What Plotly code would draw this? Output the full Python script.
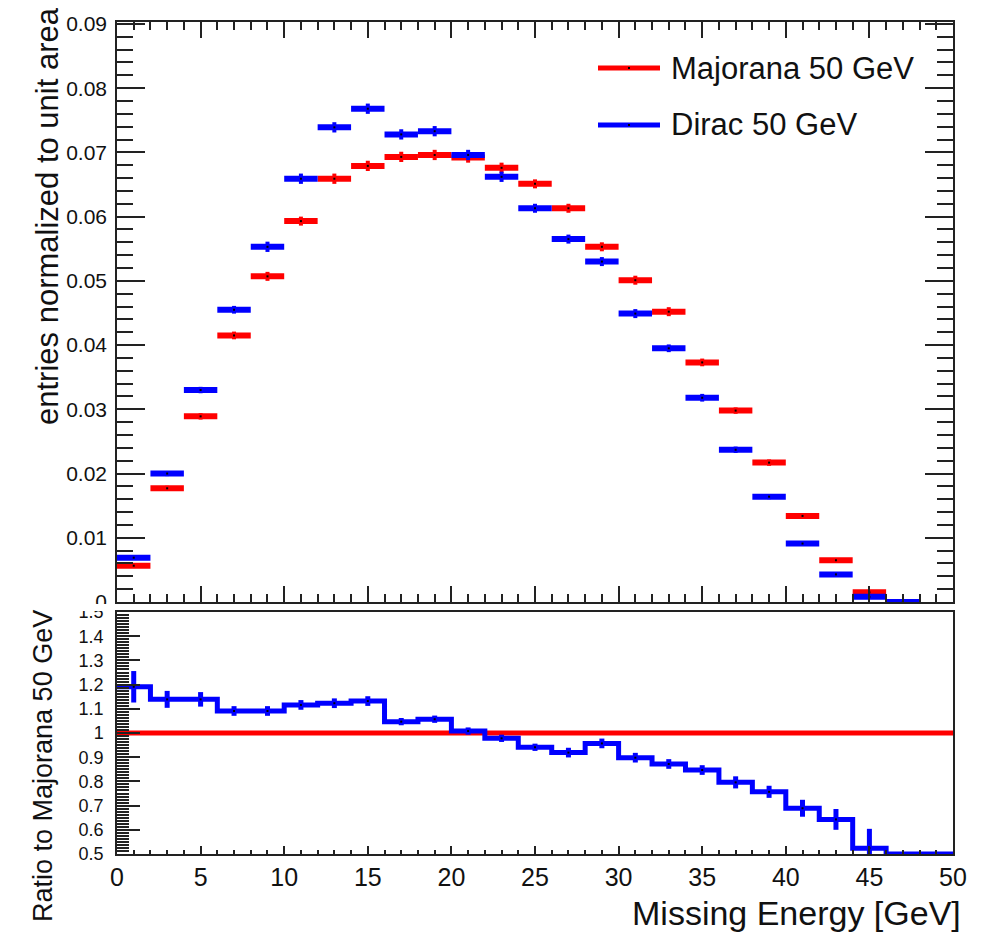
import plotly.graph_objects as go

# ---------------- data ----------------
bin_centers = [1, 3, 5, 7, 9, 11, 13, 15, 17, 19, 21, 23, 25, 27, 29,
               31, 33, 35, 37, 39, 41, 43, 45, 47, 49]
bin_half_width = [1] * 25

majorana = [0.00565, 0.0177, 0.0289, 0.0415, 0.0507, 0.0593, 0.0659, 0.0679,
            0.0693, 0.0696, 0.0692, 0.0676, 0.0651, 0.0613, 0.0553, 0.0501,
            0.0452, 0.0373, 0.0298, 0.0217, 0.0134, 0.0065, 0.0015, 0.0, None]
majorana_err = [0.0003, 0.0004, 0.0005, 0.0006, 0.0007, 0.0007, 0.0008, 0.0008,
                0.0008, 0.0008, 0.0008, 0.0008, 0.0007, 0.0007, 0.0007, 0.0007,
                0.0007, 0.0006, 0.0005, 0.0005, 0.0004, 0.0003, 0.0002, 0.0, None]

dirac = [0.0069, 0.0200, 0.0330, 0.0455, 0.0553, 0.0659, 0.0739, 0.0768,
         0.0728, 0.0733, 0.0696, 0.0662, 0.0613, 0.0565, 0.0530, 0.0449,
         0.0395, 0.0318, 0.0237, 0.0164, 0.0091, 0.0043, 0.0008, 0.0, None]
dirac_err = [0.0003, 0.0004, 0.0005, 0.0006, 0.0008, 0.0008, 0.0008, 0.0008,
             0.0008, 0.0008, 0.0008, 0.0008, 0.0007, 0.0007, 0.0007, 0.0007,
             0.0006, 0.0006, 0.0005, 0.0004, 0.0003, 0.0002, 0.0002, 0.0, None]

ratio_majorana = [1.0, 1.0, 1.0, 1.0, 1.0, 1.0, 1.0, 1.0, 1.0, 1.0, 1.0, 1.0, 1.0,
                  1.0, 1.0, 1.0, 1.0, 1.0, 1.0, 1.0, 1.0, 1.0, 1.0, 1.0, 1.0]
ratio_dirac = [1.191, 1.139, 1.139, 1.091, 1.091, 1.116, 1.123, 1.132, 1.047,
               1.057, 1.008, 0.978, 0.941, 0.919, 0.957, 0.898, 0.872, 0.847,
               0.796, 0.757, 0.689, 0.643, 0.524, 0.5, 0.5]
ratio_err = [0.065, 0.035, 0.03, 0.02, 0.02, 0.02, 0.02, 0.02, 0.015, 0.015,
             0.015, 0.015, 0.015, 0.02, 0.02, 0.02, 0.02, 0.02, 0.025, 0.025,
             0.035, 0.043, 0.08, 0.0, 0.0]

top_tickvals = [0, 0.01, 0.02, 0.03, 0.04, 0.05, 0.06, 0.07, 0.08, 0.09]
top_ticktext = ["0", "0.01", "0.02", "0.03", "0.04", "0.05", "0.06", "0.07", "0.08", "0.09"]
ratio_tickvals = [0.5, 0.6, 0.7, 0.8, 0.9, 1.0, 1.1, 1.2, 1.3, 1.4, 1.5]
ratio_ticktext = ["0.5", "0.6", "0.7", "0.8", "0.9", "1", "1.1", "1.2", "1.3", "1.4", "1.5"]
x_tickvals = [0, 5, 10, 15, 20, 25, 30, 35, 40, 45, 50]
x_ticktext = ["0", "5", "10", "15", "20", "25", "30", "35", "40", "45", "50"]

labels = ["Majorana 50 GeV", "Dirac 50 GeV"]

# ---------------- geometry helpers ----------------
W, H = 993, 935
ML, MR, MT, MB = 117, 40, 22, 81
PW, PH = W - ML - MR, H - MT - MB


def px(xp):
    return (xp - ML) / PW


def py(yp):
    return (H - MB - yp) / PH


RED = "#ff0000"
BLUE = "#0000ff"
FONT = "Liberation Sans, Arial, sans-serif"
AX = "#222222"
TXT = "#111111"

fig = go.Figure()

# ---------------- top panel ----------------
for vals, errs, col, name in [(majorana, majorana_err, RED, labels[0]),
                              (dirac, dirac_err, BLUE, labels[1])]:
    fig.add_trace(go.Scatter(
        x=bin_centers, y=vals, mode="markers", name=name, showlegend=False,
        marker=dict(symbol="square", size=2, color="black"),
        error_x=dict(type="data", array=bin_half_width, symmetric=True,
                     thickness=6, width=0, color=col),
        error_y=dict(type="data", array=errs, symmetric=True,
                     thickness=4, width=0, color=col),
        xaxis="x", yaxis="y",
    ))

# ---------------- ratio panel ----------------
edges = [c - h for c, h in zip(bin_centers, bin_half_width)] + [bin_centers[-1] + bin_half_width[-1]]

fig.add_trace(go.Scatter(
    x=edges, y=ratio_majorana + [ratio_majorana[-1]], mode="lines",
    line=dict(color=RED, width=5, shape="hv"), showlegend=False,
    xaxis="x2", yaxis="y2", cliponaxis=False,
))
fig.add_trace(go.Scatter(
    x=edges, y=ratio_dirac + [ratio_dirac[-1]], mode="lines",
    line=dict(color=BLUE, width=5, shape="hv"), showlegend=False,
    xaxis="x2", yaxis="y2", cliponaxis=False,
))
mk_y = [v if e > 0 else None for v, e in zip(ratio_dirac, ratio_err)]
fig.add_trace(go.Scatter(
    x=bin_centers, y=mk_y, mode="markers", showlegend=False,
    marker=dict(symbol="square", size=2, color="black"),
    error_y=dict(type="data", array=ratio_err, symmetric=True,
                 thickness=5, width=0, color=BLUE),
    xaxis="x2", yaxis="y2",
))

top_dom = [py(602), 1.0]
bot_dom = [0.0, py(612)]

common_x = dict(range=[0, 50], showgrid=False, zeroline=False, showline=True,
                linecolor=AX, linewidth=1.5, ticks="inside", tickwidth=1.5,
                tickcolor=AX, tickvals=x_tickvals, ticktext=x_ticktext)

fig.update_layout(
    width=W, height=H,
    margin=dict(l=ML, r=MR, t=MT, b=MB),
    paper_bgcolor="white", plot_bgcolor="white",
    font=dict(family=FONT, color=TXT),
    xaxis=dict(**common_x, anchor="y", showticklabels=False, ticklen=16,
               mirror="ticks",
               minor=dict(ticks="inside", dtick=1, tick0=0, ticklen=8,
                          tickwidth=1.5, tickcolor=AX)),
    yaxis=dict(domain=top_dom, range=[0, 0.0903], anchor="x", showgrid=False,
               zeroline=False, showline=True, linecolor=AX, linewidth=1.5,
               ticks="inside", ticklen=28, tickwidth=1.5, tickcolor=AX,
               mirror="ticks", tickvals=top_tickvals, ticktext=top_ticktext,
               tickfont=dict(size=21, family=FONT, color=TXT),
               ticklabelstandoff=4,
               minor=dict(ticks="inside", dtick=0.002, tick0=0, ticklen=16,
                          tickwidth=1.5, tickcolor=AX)),
    xaxis2=dict(**common_x, anchor="y2", ticklen=8, mirror=True,
                tickfont=dict(size=25, family=FONT, color=TXT),
                ticklabelstandoff=0,
                minor=dict(ticks="inside", dtick=1, tick0=0, ticklen=4,
                           tickwidth=1.5, tickcolor=AX)),
    yaxis2=dict(domain=bot_dom, range=[0.5, 1.5], anchor="x2", showgrid=False,
                zeroline=False, showline=True, linecolor=AX, linewidth=1.5,
                ticks="inside", ticklen=23, tickwidth=1.5, tickcolor=AX,
                mirror=True, tickvals=ratio_tickvals, ticktext=ratio_ticktext,
                tickfont=dict(size=18, family=FONT, color=TXT),
                ticklabelstandoff=8,
                minor=dict(ticks="inside", dtick=0.0125, tick0=0.5, ticklen=12,
                           tickwidth=1.5, tickcolor=AX)),
)

# cover between panels (like ROOT pad overlap)
fig.add_shape(type="rect", xref="paper", yref="paper",
              x0=px(55), x1=px(114), y0=py(611), y1=py(604),
              fillcolor="white", line=dict(width=0), layer="above")

# ---------------- titles ----------------
fig.add_annotation(text="entries normalized to unit area", textangle=-90,
                   xref="paper", yref="paper", x=px(48), y=py(216),
                   xanchor="center", yanchor="middle", showarrow=False,
                   font=dict(size=31, family=FONT, color=TXT))
fig.add_annotation(text="Ratio to Majorana 50 GeV", textangle=-90,
                   xref="paper", yref="paper", x=px(43), y=py(766),
                   xanchor="center", yanchor="middle", showarrow=False,
                   font=dict(size=27, family=FONT, color=TXT))
fig.add_annotation(text="Missing Energy [GeV]",
                   xref="paper", yref="paper", x=px(963), y=py(913),
                   xanchor="right", yanchor="middle", showarrow=False,
                   font=dict(size=34, family=FONT, color=TXT))

# ---------------- legend ----------------
for lab, col, yl in [(labels[0], RED, 68), (labels[1], BLUE, 125)]:
    fig.add_shape(type="line", xref="paper", yref="paper",
                  x0=px(598), x1=px(660), y0=py(yl), y1=py(yl),
                  line=dict(color=col, width=5))
    fig.add_shape(type="rect", xref="paper", yref="paper",
                  x0=px(628), x1=px(630), y0=py(yl + 1), y1=py(yl - 1),
                  fillcolor="black", line=dict(width=0))
    fig.add_annotation(text=lab, xref="paper", yref="paper",
                       x=px(669), y=py(yl), xanchor="left", yanchor="middle",
                       showarrow=False,
                       font=dict(size=31, family=FONT, color=TXT))

fig.write_html("out.html")
